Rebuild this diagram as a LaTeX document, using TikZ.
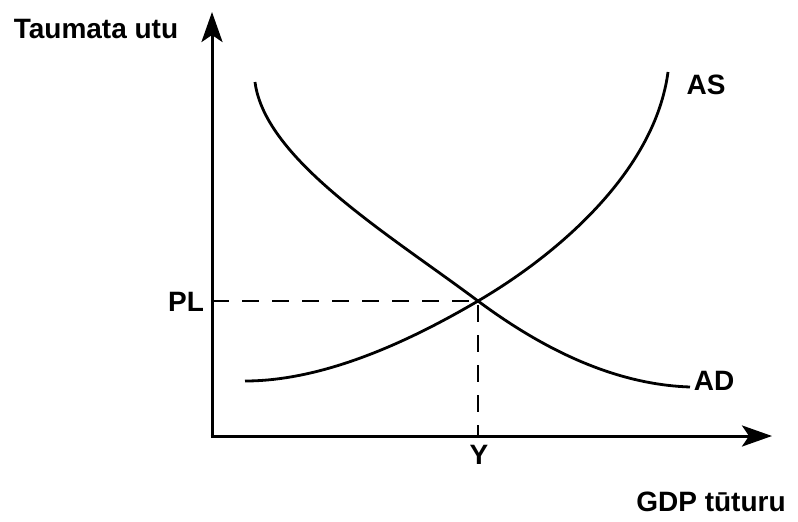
\documentclass[tikz,border=0pt]{standalone}
\usepackage{fontspec}
\setmainfont{Liberation Sans}
\usetikzlibrary{arrows.meta}
\begin{document}
\begin{tikzpicture}[x=1pt,y=-1pt,
  lbl/.style={font=\fontsize{28}{32}\selectfont\bfseries, inner sep=0pt},
  axis/.style={line width=3pt, -{Stealth[length=30pt,width=21pt,inset=7pt]}},
  curve/.style={line width=2.8pt},
  guide/.style={line width=2.4pt, dash pattern=on 17pt off 13pt}]
\useasboundingbox (0,0) rectangle (798,522);
\coordinate (O) at (212,436);
\coordinate (ytip) at (212,12);
\coordinate (xtip) at (772,436);
\coordinate (E) at (478,301);
\coordinate (PLa) at (212,301);
\coordinate (Ya) at (478,436);
\coordinate (ASs) at (245,381);
\coordinate (ASe) at (668,72);
\coordinate (ADs) at (255,82);
\coordinate (ADe) at (690,387);
\draw[guide] (PLa) -- (E) -- (Ya);
\draw[curve] (ASs) .. controls (330,381) and (420,335) .. (E)
  .. controls (560,253) and (655,170) .. (ASe);
\draw[curve] (ADs) .. controls (265,160) and (390,235) .. (E)
  .. controls (560,362) and (630,385) .. (ADe);
\draw[axis] ([yshift=-1.5pt]O) -- (ytip);
\draw[axis] ([xshift=-1.5pt]O) -- (xtip);
\node[lbl] (ylab) at (96,29) {Taumata utu};
\node[lbl] (xlab) at (711,502) {GDP tūturu};
\node[lbl] (as) at (706,85) {AS};
\node[lbl] (ad) at (714,381) {AD};
\node[lbl] (pl) at (186,302) {PL};
\node[lbl] (y) at (479,455) {Y};
\end{tikzpicture}
\end{document}
